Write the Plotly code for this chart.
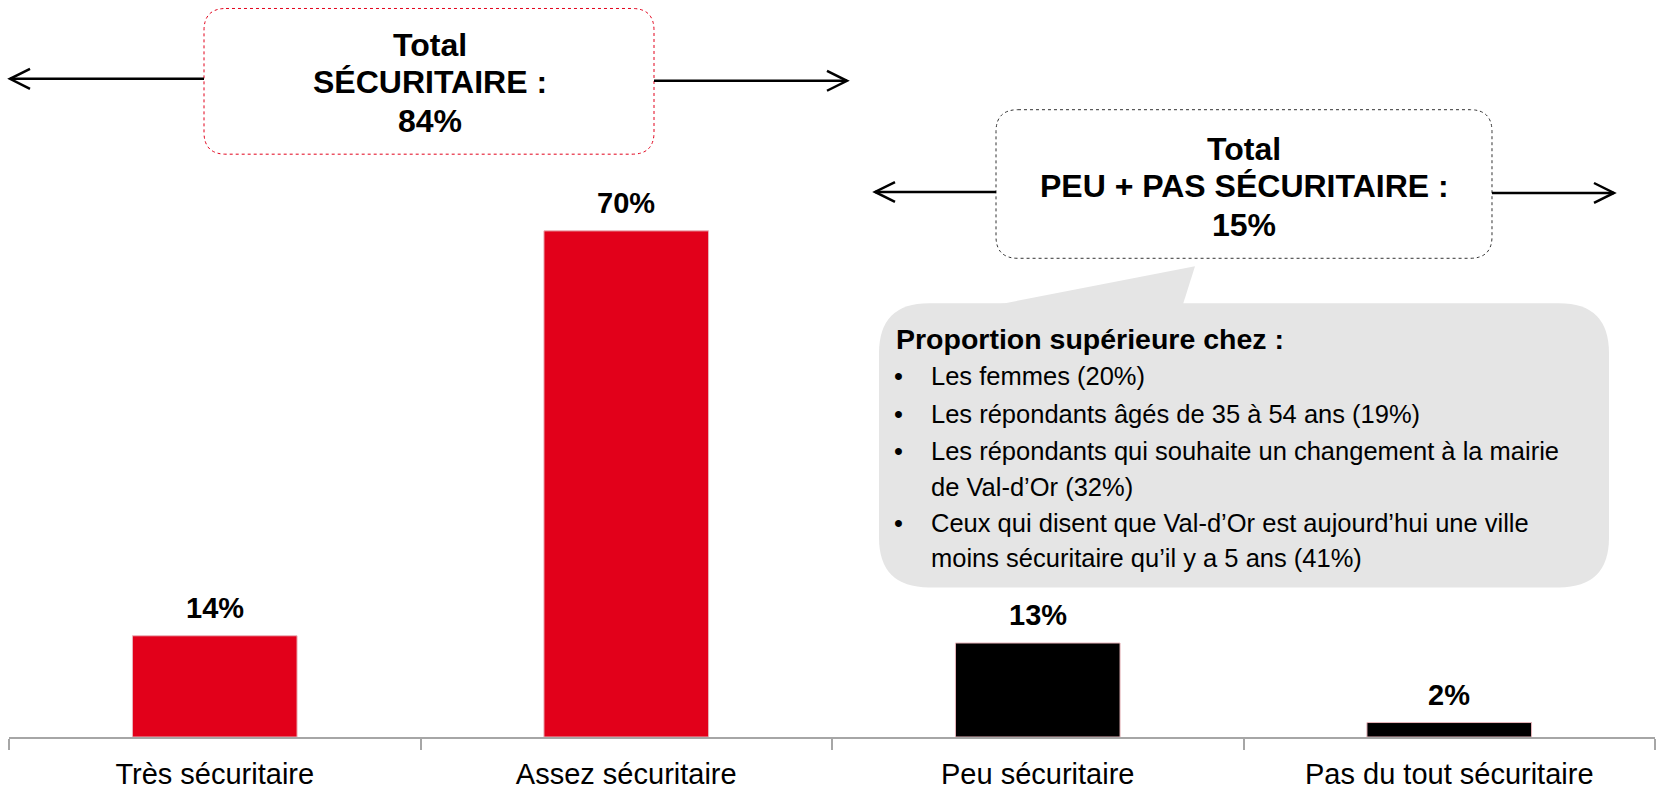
import plotly.graph_objects as go

# data
categories = ["Très sécuritaire", "Assez sécuritaire", "Peu sécuritaire", "Pas du tout sécuritaire"]
values = [14, 70, 13, 2]
bar_colors = ["#E2001A", "#E2001A", "#000000", "#000000"]

total_secure = ["Total", "SÉCURITAIRE :", "84%"]
total_not_secure = ["Total", "PEU + PAS SÉCURITAIRE :", "15%"]
callout_title = "Proportion supérieure chez :"
callout_lines = [
    ("•", "Les femmes (20%)"),
    ("•", "Les répondants âgés de 35 à 54 ans (19%)"),
    ("•", "Les répondants qui souhaite un changement à la mairie"),
    ("", "de Val-d’Or (32%)"),
    ("•", "Ceux qui disent que Val-d’Or est aujourd’hui une ville"),
    ("", "moins sécuritaire qu’il y a 5 ans (41%)"),
]

FONT = "Liberation Sans, Arial, sans-serif"
W, H = 1660, 790
L, R, T, B = 9, 5, 0, 51
PW, PH = W - L - R, H - T - B


# pixel -> paper helpers for the decorations
def px(x):
    return (x - L) / PW


def py(y):
    return (H - B - y) / PH


def rrect(x0, y0, x1, y1, r):
    pts = [
        ("M", [(x0 + r, y0)]), ("L", [(x1 - r, y0)]), ("Q", [(x1, y0), (x1, y0 + r)]),
        ("L", [(x1, y1 - r)]), ("Q", [(x1, y1), (x1 - r, y1)]), ("L", [(x0 + r, y1)]),
        ("Q", [(x0, y1), (x0, y1 - r)]), ("L", [(x0, y0 + r)]), ("Q", [(x0, y0), (x0 + r, y0)]),
    ]
    s = ""
    for cmd, ps in pts:
        s += cmd + " " + " ".join("%.5f,%.5f" % (px(a), py(b)) for a, b in ps) + " "
    return s + "Z"


def poly(points):
    return "M " + " L ".join("%.5f,%.5f" % (px(a), py(b)) for a, b in points) + " Z"


fig = go.Figure()
fig.add_trace(go.Bar(
    x=categories, y=values,
    marker=dict(color=bar_colors, line=dict(color="#e9b5bb", width=1)),
    width=0.4, hoverinfo="skip",
))

annotations = []
for c, v in zip(categories, values):
    annotations.append(dict(x=c, y=v, xref="x", yref="y", text="<b>%d%%</b>" % v, showarrow=False,
                            yanchor="middle", yshift=28, font=dict(size=29, color="black", family=FONT)))

shapes = []
# box 1 (total sécuritaire)
shapes.append(dict(type="path", xref="paper", yref="paper", path=rrect(204, 8.5, 654, 154.6, 22),
                   line=dict(color="#E2001A", width=1, dash="dot"), fillcolor="white"))
# box 2 (peu + pas)
shapes.append(dict(type="path", xref="paper", yref="paper", path=rrect(996, 110, 1492, 259, 22),
                   line=dict(color="#333333", width=1, dash="dot"), fillcolor="white"))
# callout
shapes.append(dict(type="path", xref="paper", yref="paper", path=rrect(879, 304, 1609, 589, 50),
                   line=dict(width=0), fillcolor="#E5E5E5"))
shapes.append(dict(type="path", xref="paper", yref="paper", path=poly([(1000, 305), (1195, 267), (1183, 305)]),
                   line=dict(width=0), fillcolor="#E5E5E5"))


def arrow(x0, x1, y, tip_left):
    shapes.append(dict(type="line", xref="paper", yref="paper", x0=px(x0), x1=px(x1), y0=py(y), y1=py(y),
                       line=dict(color="black", width=2.5)))
    tx = x0 if tip_left else x1
    d = 20 if tip_left else -20
    shapes.append(dict(type="path", xref="paper", yref="paper",
                       path="M %.5f,%.5f L %.5f,%.5f L %.5f,%.5f" % (px(tx + d), py(y - 10), px(tx), py(y), px(tx + d), py(y + 10)),
                       line=dict(color="black", width=2.5)))


arrow(10, 204, 79, True)
arrow(654, 847, 81, False)
arrow(875, 996, 192.5, True)
arrow(1492, 1614, 193.5, False)

for txt, yy in zip(total_secure, [45.5, 82.6, 121.8]):
    annotations.append(dict(x=px(430), y=py(yy), xref="paper", yref="paper", text="<b>%s</b>" % txt,
                            showarrow=False, xanchor="center", yanchor="middle",
                            font=dict(size=32, color="black", family=FONT)))
for txt, yy in zip(total_not_secure, [149, 187, 225.5]):
    annotations.append(dict(x=px(1244), y=py(yy), xref="paper", yref="paper", text="<b>%s</b>" % txt,
                            showarrow=False, xanchor="center", yanchor="middle",
                            font=dict(size=32, color="black", family=FONT)))

annotations.append(dict(x=px(894), y=py(340), xref="paper", yref="paper", text="<b>%s</b>" % callout_title,
                        showarrow=False, xanchor="left", yanchor="middle",
                        font=dict(size=28.5, color="black", family=FONT)))
for (b, txt), yy in zip(callout_lines, [377, 415, 452, 488, 524, 560]):
    if b:
        annotations.append(dict(x=px(898), y=py(yy), xref="paper", yref="paper", text=b, showarrow=False,
                                xanchor="center", yanchor="middle", font=dict(size=25.5, color="black", family=FONT)))
    annotations.append(dict(x=px(929), y=py(yy), xref="paper", yref="paper", text=txt, showarrow=False,
                            xanchor="left", yanchor="middle", font=dict(size=25.5, color="black", family=FONT)))

fig.update_layout(
    width=W, height=H, margin=dict(l=L, r=R, t=T, b=B),
    plot_bgcolor="white", paper_bgcolor="white", showlegend=False,
    shapes=shapes, annotations=annotations,
    font=dict(family=FONT, color="black"),
)
fig.update_xaxes(showline=True, linecolor="#A6A6A6", linewidth=1.5, ticks="outside", tickson="boundaries",
                 ticklen=11, tickcolor="#A6A6A6", tickwidth=1.5, showgrid=False, ticklabelstandoff=10,
                 tickfont=dict(size=29, color="black", family=FONT), range=[-0.5, 3.5])
fig.update_yaxes(visible=False, range=[0, PH / 7.25], showgrid=False, zeroline=False)

# the page body has a default 8px margin; drop it so the figure sits at the window's corner
fig.write_html("out.html", config={"displayModeBar": False},
               post_script="document.body.style.margin='0';")
